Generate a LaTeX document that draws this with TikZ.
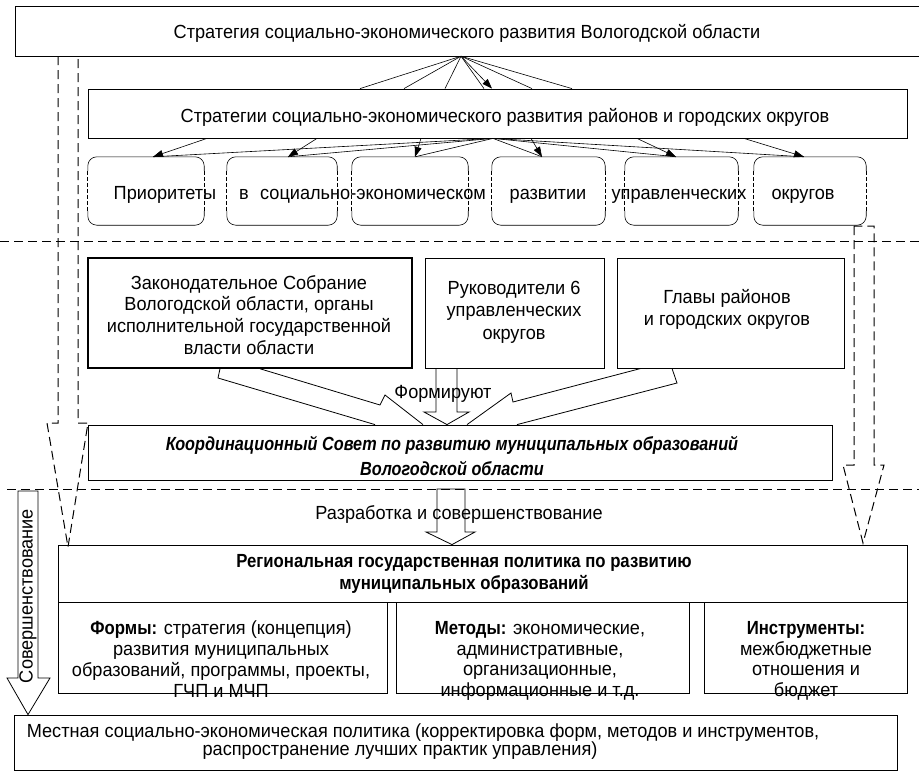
\documentclass[tikz,border=0pt]{standalone}
\usepackage{fontspec}
\setmainfont{Liberation Sans}[
  UprightFeatures={FakeStretch=0.955},
  ItalicFeatures={FakeStretch=0.955},
  BoldFeatures={FakeStretch=0.88},
  BoldItalicFeatures={FakeStretch=0.855}]
\usetikzlibrary{arrows.meta,calc}
\begin{document}
\begin{tikzpicture}[x=1pt,y=-1pt,
  font=\fontsize{19}{21.5}\selectfont,
  frame/.style={draw, line width=0.8pt, inner sep=0pt},
  txt/.style={inner sep=0pt, align=center},
  tb/.style={inner sep=0pt, anchor=base},
  tn/.style={inner sep=0pt, align=center, anchor=north},
  thinline/.style={line width=0.6pt},
  arr/.style={-{Triangle[length=10pt,width=7pt]}, line width=0.6pt},
  dsh/.style={dash pattern=on 9pt off 5pt, line width=1pt},
  hollow/.style={line width=0.8pt, line join=miter},
  sidedash/.style={dash pattern=on 4pt off 2pt, line width=0.7pt}]
\useasboundingbox (0,0) rectangle (919,772);

% ---------- top strategy ----------
\node[inner sep=0pt, minimum width=904, minimum height=49] (top) at (467.5,31.5) {};
\draw[line width=1.3pt] (top.north east) -- (top.north west) -- (top.south west) -- (top.south east);
\node[tb] (topt) at (467,38) {Стратегия социально-экономического развития Вологодской области};

\node[frame, minimum width=819, minimum height=49] (s2) at (497.5,113.5) {};
\node[tb] (s2t) at (505,122) {Стратегии социально-экономического развития районов и городских округов};

% ---------- rounded boxes ----------
\foreach \i/\cx/\w in {1/146/116, 2/282/110, 3/410/116, 4/548.5/113, 5/681.5/113, 6/810/112}{
  \node[inner sep=0pt, minimum width=\w, minimum height=68] (p\i) at (\cx,191) {};
  \draw[thinline, rounded corners=9pt] ([yshift=-14pt]p\i.north west) |- (p\i.north) -| ([yshift=-14pt]p\i.north east);
  \draw[thinline, rounded corners=9pt] ([yshift=14pt]p\i.south west) |- (p\i.south) -| ([yshift=14pt]p\i.south east);
  \draw[sidedash] ([yshift=-14pt]p\i.north west) -- ([yshift=14pt]p\i.south west);
  \draw[sidedash] ([yshift=-14pt]p\i.north east) -- ([yshift=14pt]p\i.south east);
}
\node[tb] (w1) at (165,199) {Приоритеты};
\node[tb] (w2) at (244,199) {в};
\node[tb] (w3) at (373,199) {социально-экономическом};
\node[tb] (w4) at (548,199) {развитии};
\node[tb] (w5) at (679,199) {управленческих};
\node[tb] (w6) at (803,199) {округов};

% ---------- arrows top -> s2 ----------
\coordinate (apex) at (461,0 |- top.south);
\foreach \x in {360,404,445,484,532,572}
  \draw[thinline] (apex) -- (\x,0 |- s2.north);
\draw[arr] (apex) -- (492,0 |- s2.north);

% ---------- arrows s2 -> rounded boxes ----------
\coordinate (hub) at (493,0 |- s2.south);
\foreach \s/\t in {207/153,317/288,421/415,531/542,637/676,744/804}{
  \draw[thinline] (hub) -- (\t,0 |- p1.north);
  \draw[arr] (\s,0 |- s2.south) -- (\t,0 |- p1.north);
}

% ---------- separators ----------
\draw[dsh] (0,241) -- (919,241);
\draw[dsh] (7,489) -- (919,489);

% ---------- dashed hollow arrows ----------
\draw[dsh, line join=miter] (58,0 |- top.south) -- (58,423) -- (47,423) -- (68,547) -- (88,423) -- (78,423) -- (78,0 |- top.south);
\draw[dsh, line join=miter] (854,226) -- (854,465) -- (843,465) -- (863,543) -- (884,465) -- (874,465) -- (874,226) -- cycle;

% ---------- middle boxes ----------
\node[frame, line width=1.5pt, minimum width=324, minimum height=110] (A) at (250,313) {};
\node[tn, font=\fontsize{19}{21.7}\selectfont] (At) at (249,275)
  {Законодательное Собрание\\Вологодской области, органы\\исполнительной государственной\\власти области};
\node[frame, minimum width=179, minimum height=110] (B) at (514.5,313) {};
\node[tn, font=\fontsize{19}{22.5}\selectfont] (Bt) at (514,281)
  {Руководители 6\\управленческих\\округов};
\node[frame, minimum width=227, minimum height=110] (C) at (730.5,313) {};
\node[tn, font=\fontsize{19}{22.5}\selectfont] (Ct) at (727,289) {Главы районов\\и городских округов};

% ---------- coordinating council ----------
\node[frame, minimum width=744, minimum height=55] (K) at (460,452.5) {};
\node[tn, font=\fontsize{19}{25}\selectfont\bfseries\itshape] (Kt) at (452,436)
  {Координационный Совет по развитию муниципальных образований\\Вологодской области};

% ---------- "Формируют" hollow arrows ----------
\draw[hollow] (220,0 |- A.south) -- (218,378) -- (375,0 |- K.north);
\draw[hollow] (260,0 |- A.south) -- (380,405) -- (385,395) -- (423,0 |- K.north);
\draw[hollow] (436,0 |- B.south) -- (436,412) -- (424,412) -- (447,0 |- K.north) -- (469,412) -- (457,412) -- (457,0 |- B.south);
\draw[hollow] (641,0 |- C.south) -- (513,402) -- (511,393) -- (467,0 |- K.north);
\draw[hollow] (672,0 |- C.south) -- (677,383) -- (517,0 |- K.north);
\node[tb] (form) at (443,398) {Формируют};

% ---------- "Разработка" arrow ----------
\node[tb] (razr) at (459,519) {Разработка и совершенствование};

% ---------- regional policy ----------
\node[frame, minimum width=849, minimum height=57] (R) at (482.5,573.5) {};
\node[tn, font=\fontsize{19}{22}\selectfont\bfseries] (Rt) at (464,554)
  {Региональная государственная политика по развитию\\муниципальных образований};
\draw[hollow] (437,489) -- (437,532) -- (426,532) -- (452,0 |- R.north) -- (475,532) -- (465,532) -- (465,489) -- cycle;

\node[frame, minimum width=329, minimum height=91] (F) at (222.5,647.5) {};
\node[frame, minimum width=293, minimum height=91] (M) at (542.5,647.5) {};
\node[frame, minimum width=203, minimum height=91] (I) at (805.5,647.5) {};
\node[tn, font=\fontsize{19}{20.8}\selectfont] (Ft) at (221,621)
  {\textbf{Формы:} стратегия (концепция)\\развития муниципальных\\образований, программы, проекты,\\ГЧП и МЧП};
\node[tn, font=\fontsize{19}{20.8}\selectfont] (Mt) at (540,621)
  {\textbf{Методы:} экономические,\\административные,\\организационные,\\информационные и т.д.};
\node[tn, font=\fontsize{19}{20.8}\selectfont] (It) at (806,621)
  {\textbf{Инструменты:}\\межбюджетные\\отношения и\\бюджет};

% ---------- local policy ----------
\node[frame, minimum width=883, minimum height=55] (L) at (455.5,742.5) {};
\node[tb] (L1) at (423,737) {Местная социально-экономическая политика (корректировка форм, методов и инструментов,};
\node[tb] (L2) at (400,755) {распространение лучших практик управления)};

% ---------- "Совершенствование" arrow ----------
\draw[hollow] (18,491) -- (18,678) -- (7,678) -- (28,0 |- L.north) -- (50,678) -- (38,678) -- (38,491) -- cycle;
\node[txt, rotate=90] (sov) at (28,596) {Совершенствование};
\end{tikzpicture}
\end{document}
